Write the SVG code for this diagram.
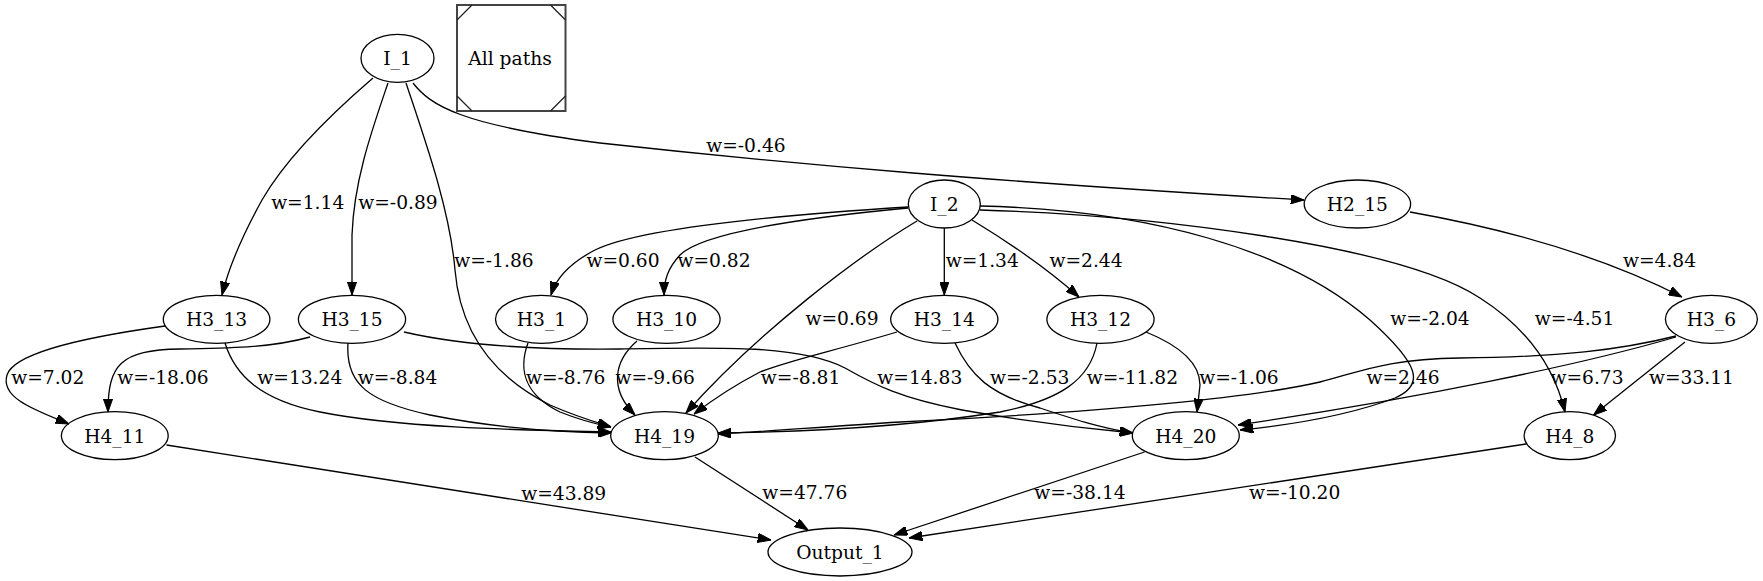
<svg xmlns="http://www.w3.org/2000/svg" width="1763" height="581" viewBox="0 0 1763 581">
<style>
text{font-family:"DejaVu Serif","Liberation Serif",serif;font-size:18.67px;fill:#000;text-anchor:middle}
.node ellipse{fill:none;stroke:#000;stroke-width:1.3}
.edges path{fill:none;stroke:#000;stroke-width:1.3;marker-end:url(#ah)}
</style>
<defs>
<marker id="ah" markerUnits="userSpaceOnUse" markerWidth="13.3" markerHeight="9.4" viewBox="0 0 13.3 9.4" refX="13.3" refY="4.7" orient="auto">
<path d="M0,0 L13.3,4.7 L0,9.4 z" fill="#000" stroke="#000" stroke-width="1"/>
</marker>
</defs>
<rect x="0" y="0" width="1763" height="581" fill="#fff"/>
<g id="edges" class="edges">
<g id="e_I1_H313"><path d="M373,78 C330,115 285,160 262,200 C240,240 228,270 222,295"/><text x="307.7" y="209">w=1.14</text></g>
<g id="e_I1_H315"><path d="M388,83 C372,130 354,180 352,235 L352,295"/><text x="398" y="209">w=-0.89</text></g>
<g id="e_I1_H419"><path d="M406,83 C425,140 450,210 455,270 C460,330 490,375 550,405 C575,416 595,422 611,427"/><text x="493.9" y="266.8">w=-1.86</text></g>
<g id="e_I1_H215"><path d="M413,83 C430,105 460,125 600,143 C800,165 1000,182 1304,200"/><text x="745.9" y="151.8">w=-0.46</text></g>
<g id="e_I2_H31"><path d="M908,207 C780,215 640,228 595,250 C570,263 556,278 551,295"/><text x="623" y="266.8">w=0.60</text></g>
<g id="e_I2_H310"><path d="M908,208 C780,220 700,235 680,255 C668,268 664,280 664,295"/><text x="714" y="266.8">w=0.82</text></g>
<g id="e_I2_H419"><path d="M917,221 C860,255 760,330 686,413"/><text x="842" y="325.1">w=0.69</text></g>
<g id="e_I2_H314"><path d="M944.3,228 L944.3,295"/><text x="982.3" y="266.8">w=1.34</text></g>
<g id="e_I2_H312"><path d="M972,220 C1000,237 1040,262 1079,297"/><text x="1086" y="266.8">w=2.44</text></g>
<g id="e_I2_H420"><path d="M980,206 C1150,210 1290,250 1370,320 C1420,365 1425,385 1395,398 C1355,413 1300,424 1240,430"/><text x="1430" y="325.1">w=-2.04</text></g>
<g id="e_I2_H48"><path d="M980,210 C1150,215 1400,245 1480,298 C1530,330 1555,370 1565,412"/><text x="1574.6" y="325.1">w=-4.51</text></g>
<g id="e_H215_H36"><path d="M1410,212 C1500,228 1600,255 1682,297"/><text x="1659.5" y="266.8">w=4.84</text></g>
<g id="e_H313_H411"><path d="M165,326 C100,335 15,350 7,375 C0,398 35,410 69,424"/><text x="47.8" y="383.5">w=7.02</text></g>
<g id="e_H313_H419"><path d="M225,343 C235,375 260,400 320,412 C400,428 520,430 611,432"/><text x="299.8" y="383.5">w=13.24</text></g>
<g id="e_H315_H411"><path d="M310,337 C270,348 230,348 180,349 C120,350 108,365 108,412"/><text x="163" y="383.5">w=-18.06</text></g>
<g id="e_H315_H419"><path d="M348,343 C345,385 370,402 430,415 C490,427 550,432 611,433"/><text x="397.6" y="383.5">w=-8.84</text></g>
<g id="e_H315_H420"><path d="M404,332 C460,345 530,350 620,349 C720,347 800,345 845,368 C875,385 900,398 962,410 C1030,422 1090,429 1133,433"/><text x="919.8" y="383.5">w=14.83</text></g>
<g id="e_H31_H419"><path d="M528,343 C518,370 525,395 560,412 C580,420 595,424 611,427"/><text x="565.7" y="383.5">w=-8.76</text></g>
<g id="e_H310_H419"><path d="M637,341 C615,360 608,388 635,415"/><text x="655.2" y="383.5">w=-9.66</text></g>
<g id="e_H314_H419"><path d="M897,332 C830,352 790,360 760,372 C735,385 715,398 694,414"/><text x="800.6" y="383.5">w=-8.81</text></g>
<g id="e_H314_H420"><path d="M955,343 C970,375 990,395 1040,408 C1070,418 1100,428 1133,433"/><text x="1029.7" y="383.5">w=-2.53</text></g>
<g id="e_H312_H419"><path d="M1097,343 C1090,380 1060,400 1000,412 C900,428 800,432 718,433"/><text x="1132.4" y="383.5">w=-11.82</text></g>
<g id="e_H312_H420"><path d="M1146,332 C1178,345 1200,362 1200,385 L1197,412"/><text x="1239" y="383.5">w=-1.06</text></g>
<g id="e_H36_H419"><path d="M1676,336 C1620,350 1560,357 1460,358 C1385,359 1360,372 1320,382 C1250,398 1100,412 900,422 C820,427 760,432 718,434"/><text x="1403" y="383.5">w=2.46</text></g>
<g id="e_H36_H420"><path d="M1676,337 C1580,365 1420,398 1238,425"/><text x="1587" y="383.5">w=6.73</text></g>
<g id="e_H36_H48"><path d="M1685,342 L1593.5,415"/><text x="1691.5" y="383.5">w=33.11</text></g>
<g id="e_H411_O1"><path d="M166.5,445 L771,540"/><text x="563.7" y="500.1">w=43.89</text></g>
<g id="e_H419_O1"><path d="M695,457 L808,530"/><text x="804.8" y="499.1">w=47.76</text></g>
<g id="e_H420_O1"><path d="M1144.5,452 L894,535"/><text x="1080" y="499.1">w=-38.14</text></g>
<g id="e_H48_O1"><path d="M1526,444 L909,538"/><text x="1294.7" y="499.1">w=-10.20</text></g>
</g>
<g id="all_paths">
<rect x="457" y="5" width="108.5" height="106" fill="none" stroke="#444" stroke-width="2"/>
<path d="M457,20 L472,5 M550.5,5 L565.5,20 M457,96 L472,111 M550.5,111 L565.5,96" fill="none" stroke="#222" stroke-width="1.3"/>
<text x="510" y="65">All paths</text>
</g>
<g id="I_1" class="node"><ellipse cx="397.5" cy="58.3" rx="36.5" ry="24"/><text x="397.5" y="65">I_1</text></g>
<g id="I_2" class="node"><ellipse cx="944.3" cy="204" rx="36" ry="24"/><text x="944.3" y="210.8">I_2</text></g>
<g id="H2_15" class="node"><ellipse cx="1357.4" cy="204" rx="53.2" ry="24"/><text x="1357.4" y="210.8">H2_15</text></g>
<g id="H3_13" class="node"><ellipse cx="216.6" cy="319.3" rx="53.3" ry="24"/><text x="216.6" y="326.1">H3_13</text></g>
<g id="H3_15" class="node"><ellipse cx="352" cy="319.3" rx="53.6" ry="24"/><text x="352" y="326.1">H3_15</text></g>
<g id="H3_1" class="node"><ellipse cx="541.5" cy="319.3" rx="46" ry="24"/><text x="541.5" y="326.1">H3_1</text></g>
<g id="H3_10" class="node"><ellipse cx="666.5" cy="319.3" rx="53.6" ry="24"/><text x="666.5" y="326.1">H3_10</text></g>
<g id="H3_14" class="node"><ellipse cx="944.3" cy="319.3" rx="53.6" ry="24"/><text x="944.3" y="326.1">H3_14</text></g>
<g id="H3_12" class="node"><ellipse cx="1100.5" cy="319.3" rx="53.6" ry="24"/><text x="1100.5" y="326.1">H3_12</text></g>
<g id="H3_6" class="node"><ellipse cx="1711.4" cy="319.3" rx="46" ry="24"/><text x="1711.4" y="326.1">H3_6</text></g>
<g id="H4_11" class="node"><ellipse cx="114.8" cy="435.7" rx="53.4" ry="24"/><text x="114.8" y="442.5">H4_11</text></g>
<g id="H4_19" class="node"><ellipse cx="664.5" cy="435.7" rx="53.8" ry="24"/><text x="664.5" y="442.5">H4_19</text></g>
<g id="H4_20" class="node"><ellipse cx="1185.8" cy="435.7" rx="53.5" ry="24"/><text x="1185.8" y="442.5">H4_20</text></g>
<g id="H4_8" class="node"><ellipse cx="1569.8" cy="435.7" rx="45.7" ry="24"/><text x="1569.8" y="442.5">H4_8</text></g>
<g id="Output_1" class="node"><ellipse cx="840" cy="552" rx="72" ry="24"/><text x="840" y="558.8">Output_1</text></g>
</svg>
